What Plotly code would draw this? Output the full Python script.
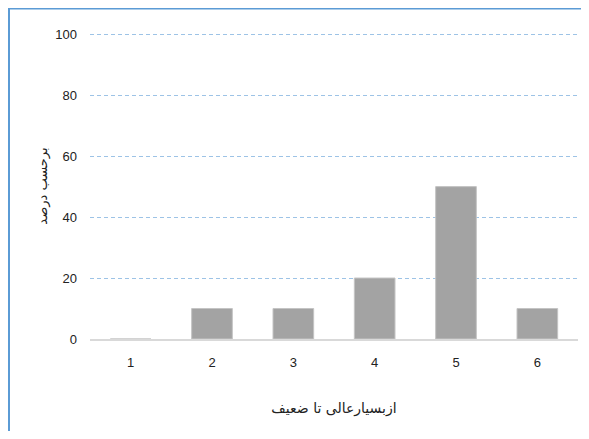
import plotly.graph_objects as go

# data
categories = ["1", "2", "3", "4", "5", "6"]
values = [0, 10, 10, 20, 50, 10]
y_ticks = [0, 20, 40, 60, 80, 100]

x_title = "ازبسیارعالی تا ضعیف"
y_title = "برحسب درصد"

fig = go.Figure(go.Bar(
    x=categories,
    y=values,
    width=0.5,
    marker=dict(color="#a3a3a3", line=dict(color="#c4c4c4", width=1)),
))

# page body has an 8px margin on every side; keep the figure inside the window
fig.update_layout(
    width=573,
    height=423,
    margin=dict(l=82, r=3, t=25, b=92),
    paper_bgcolor="white",
    plot_bgcolor="white",
    showlegend=False,
    font=dict(family="Liberation Sans Narrow, Liberation Sans, sans-serif", size=13, color="#222222"),
    # blue frame around the chart area, only its left and top edges are in view
    shapes=[dict(
        type="path", xref="paper", yref="paper",
        path="M -0.166,-0.4 L -0.166,1.08 L 1.02,1.08",
        line=dict(color="#5b9bd5", width=2),
        layer="below",
    )],
)

fig.update_xaxes(
    type="category",
    showgrid=False,
    showline=True,
    linecolor="#d9d9d9",
    linewidth=1.5,
    ticks="",
    ticklabelstandoff=11,
    title=dict(text=x_title, font=dict(family="DejaVu Sans", size=14, color="#222222"), standoff=34),
)

fig.update_yaxes(
    range=[0, 100.4],
    tickvals=y_ticks,
    showgrid=True,
    gridcolor="#9dc3e6",
    griddash="4px,3px",
    gridwidth=1.2,
    zeroline=False,
    showline=False,
    ticks="",
    ticklabelstandoff=12,
    title=dict(text=y_title, font=dict(family="DejaVu Sans", size=13, color="#222222"), standoff=4),
)

fig.write_html("out.html")
